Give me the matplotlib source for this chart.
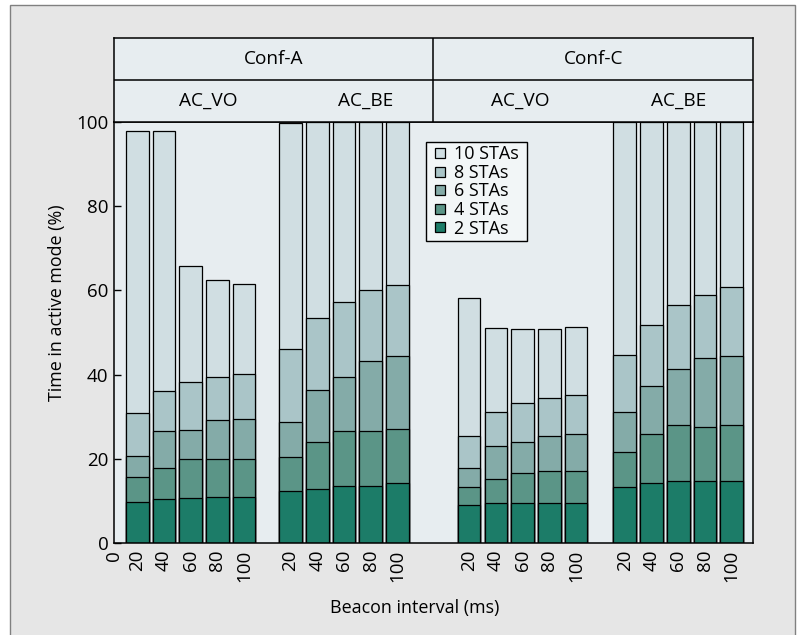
import numpy as np
import matplotlib
matplotlib.use("Agg")
import matplotlib.pyplot as plt
from matplotlib.patches import Rectangle
from matplotlib.lines import Line2D

plt.rcParams['font.family'] = ['Open Sans', 'DejaVu Sans']

# Time in active mode (%) per beacon interval, groups: Conf-A AC_VO, Conf-A AC_BE, Conf-C AC_VO, Conf-C AC_BE
intervals = ['20', '40', '60', '80', '100']
conf_labels = ['Conf-A', 'Conf-C']
ac_labels = ['AC_VO', 'AC_BE', 'AC_VO', 'AC_BE']
sta_labels = ['10 STAs', '8 STAs', '6 STAs', '4 STAs', '2 STAs']

sta2 = [9.8, 10.4, 10.7, 11.0, 11.0,
        12.3, 12.8, 13.5, 13.5, 14.2,
        9.0, 9.4, 9.4, 9.4, 9.4,
        13.2, 14.2, 14.8, 14.8, 14.8]
sta4 = [15.6, 17.8, 19.9, 19.9, 19.9,
        20.4, 24.0, 26.6, 26.6, 27.1,
        13.4, 15.2, 16.6, 17.1, 17.1,
        21.7, 26.0, 28.1, 27.5, 28.1]
sta6 = [20.7, 26.5, 26.9, 29.1, 29.5,
        28.7, 36.4, 39.5, 43.3, 44.4,
        17.7, 23.0, 24.0, 25.4, 26.0,
        31.1, 37.4, 41.3, 43.9, 44.5]
sta8 = [30.9, 36.1, 38.2, 39.4, 40.2,
        46.0, 53.4, 57.3, 60.1, 61.4,
        25.3, 31.0, 33.3, 34.5, 35.2,
        44.6, 51.9, 56.6, 59.0, 60.9]
sta10 = [97.9, 97.9, 65.8, 62.5, 61.5,
         99.8, 99.9, 100, 100, 100,
         58.1, 51.1, 50.9, 50.9, 51.3,
         100, 100, 100, 100, 100]

colors = ['#d0dee2', '#aac5c8', '#84aba8', '#5b9587', '#1c7c68']

# layout (x in bar-slot units)
group_start = [0.87, 6.61, 13.30, 19.13]
ac_label_x = [3.52, 9.44, 15.2, 21.16]
x_max = 23.93
x_pos = np.concatenate([g + np.arange(5) for g in group_start])

W, H = 803, 635
fig = plt.figure(figsize=(W / 100, H / 100), dpi=100)
fig.patch.set_facecolor('white')

# outer grey panel
fig.patches.append(Rectangle((10 / W, -0.02), 785 / W, 1 - 5 / H + 0.02,
                             transform=fig.transFigure, facecolor='#e6e6e6',
                             edgecolor='#808080', lw=1.0, zorder=-10))

ax_bg = '#e7edf0'
ax = fig.add_axes([114 / W, (H - 543) / H, (753 - 114) / W, (543 - 122) / H])
ax.set_facecolor(ax_bg)

series = [sta10, sta8, sta6, sta4, sta2]
for vals, col, lab in zip(series, colors, sta_labels):
    ax.bar(x_pos, vals, width=0.85, color=col, edgecolor='black', linewidth=0.9, label=lab)

ax.set_xlim(0, x_max)
ax.set_ylim(0, 100)
ax.set_yticks(np.arange(0, 101, 20))
ax.tick_params(axis='y', direction='in', length=5, width=1, labelsize=13.5, pad=4)
ax.set_xticks(np.concatenate([[0], x_pos]))
ax.set_xticklabels(['0'] + intervals * 4, rotation=90, fontsize=13.5)
ax.tick_params(axis='x', length=0, pad=5)
for s in ax.spines.values():
    s.set_linewidth(1.1)

handles = [Line2D([], [], ls='none', marker='s', markersize=7.6, markerfacecolor=c,
                  markeredgecolor='black', markeredgewidth=0.9) for c in colors]
leg = ax.legend(handles, [l + ' ' for l in sta_labels], loc='upper left',
                bbox_to_anchor=(0.488, 0.953), borderaxespad=0,
                fontsize=13, frameon=True, fancybox=False, framealpha=1,
                handlelength=1.2, handletextpad=0.15,
                labelspacing=0.03, borderpad=0.2)
leg.get_frame().set_facecolor('#f2f6f7')
leg.get_frame().set_edgecolor('black')
leg.get_frame().set_linewidth(1.0)

ax.text((414.6 - 114) / 639, (543 - 613) / 421, 'Beacon interval (ms)',
        transform=ax.transAxes, ha='center', va='baseline', fontsize=12.9)
fig.text(57 / W, (H - 303) / H, 'Time in active mode (%)', rotation=90,
         ha='center', va='center', fontsize=12.9)

# header rows
hx = fig.add_axes([114 / W, (H - 122) / H, (753 - 114) / W, (122 - 38) / H])
hx.set_facecolor(ax_bg)
hx.set_xlim(0, x_max)
hx.set_ylim(0, 2)
hx.set_xticks([])
hx.set_yticks([])
for s in hx.spines.values():
    s.set_linewidth(1.1)
hx.axhline(1, color='black', lw=1.1)
hx.axvline(x_max / 2, color='black', lw=1.1)
for i, lab in enumerate(conf_labels):
    hx.text(x_max / 4 + i * x_max / 2, 1.5, lab, ha='center', va='center', fontsize=13.7)
for xl, lab in zip(ac_label_x, ac_labels):
    hx.text(xl, 0.5, lab, ha='center', va='center', fontsize=13.7)

fig.savefig('out.png', dpi=100)
